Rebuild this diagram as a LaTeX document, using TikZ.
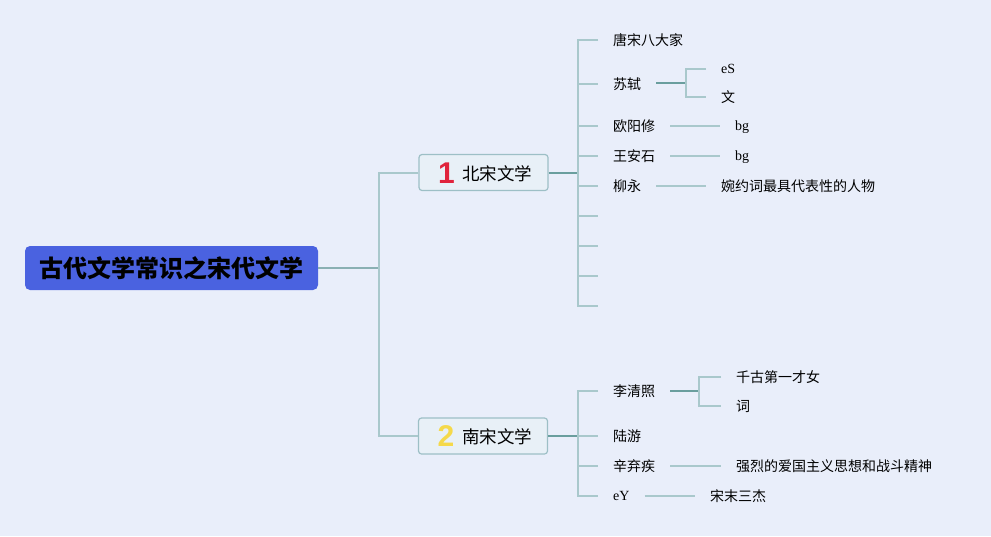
\documentclass[tikz,border=0pt]{standalone}
\usepackage{fontspec}
\setmainfont{Noto Sans CJK SC}
\newfontfamily\latinserif{Liberation Serif}
\newfontfamily\numfont{Liberation Sans}
\definecolor{bgc}{HTML}{E9EEFA}
\definecolor{rootF}{HTML}{4A62E0}
\definecolor{boxF}{HTML}{E8F0F7}
\definecolor{boxB}{HTML}{9DBFC6}
\definecolor{lineD}{HTML}{6A9E9E}
\definecolor{lineL}{HTML}{A9C8CC}
\definecolor{lineR}{HTML}{8AB0B3}
\definecolor{numR}{HTML}{E0233C}
\definecolor{numY}{HTML}{F5D94A}
\tikzset{
  lt/.style={draw=lineL, line width=1.4pt},
  dk/.style={draw=lineD, line width=1.4pt},
  rl/.style={draw=lineR, line width=1.4pt},
  lbl/.style={anchor=west, inner sep=0pt, font=\fontsize{14}{14}\selectfont},
  lat/.style={anchor=west, inner sep=0pt, font=\latinserif\fontsize{14}{14}\selectfont},
  topicbox/.style={draw=boxB, fill=boxF, line width=1.2pt, rounded corners=3pt, minimum width=129pt, minimum height=36pt, inner sep=0pt},
  rootbox/.style={fill=rootF, rounded corners=5pt, minimum width=293pt, minimum height=44pt, inner sep=0pt, font=\fontsize{24}{24}\selectfont\bfseries},
  topictext/.style={anchor=west, inner sep=0pt, font=\fontsize{17.5}{18}\selectfont},
  numtext/.style={inner sep=0pt, font=\numfont\bfseries\fontsize{30}{30}\selectfont},
}
\begin{document}
\begin{tikzpicture}[x=1pt,y=-1pt]
\fill[bgc] (0,0) rectangle (991,536);
\useasboundingbox (0,0) rectangle (991,536);

% root
\node[rootbox] (root) at (171.5,268) {古代文学常识之宋代文学};

% topic boxes
\node[topicbox] (b1) at (483.5,172.5) {};
\node[numtext, text=numR] (n1) at (446.5,173) {1};
\node[topictext] (t1) at (462,173.5) {北宋文学};
\node[topicbox] (b2) at (483,436) {};
\node[numtext, text=numY] (n2) at (446,436) {2};
\node[topictext] (t2) at (462,436.5) {南宋文学};

% main trunk
\coordinate (rj) at (379,268);
\coordinate (tj1) at (379,173);
\coordinate (tj2) at (379,436);
\draw[rl] (root.east) -- (rj);
\draw[lt] (b1.west |- tj1) -- (tj1) -- (tj2) -- (b2.west |- tj2);

% --- North Song children
\node[lbl] (c11) at (613,40) {唐宋八大家};
\node[lbl] (c12) at (613,84) {苏轼};
\node[lbl] (c13) at (613,126) {欧阳修};
\node[lbl] (c14) at (613,156) {王安石};
\node[lbl] (c15) at (613,186) {柳永};
\coordinate (e1) at (598,216);
\coordinate (e2) at (598,246);
\coordinate (e3) at (598,276);
\coordinate (e4) at (598,306);
\coordinate (s1) at (578,173);
\draw[dk] (b1.east |- s1) -- (s1);
\draw[lt] ([xshift=-15pt]c11.west) -- (578,0 |- c11.west) -- (578,0 |- e4) -- (e4);
\foreach \c in {c12,c13,c14,c15} \draw[lt] (578,0 |- \c.west) -- ([xshift=-15pt]\c.west);
\foreach \c in {e1,e2,e3} \draw[lt] (578,0 |- \c) -- (\c);

% 苏轼 grandchildren
\node[lat] (g121) at (721,69) {eS};
\node[lbl] (g122) at (721,97) {文};
\coordinate (j12) at (686,83);
\draw[dk] ([xshift=15pt]c12.east |- j12) -- (j12);
\draw[lt] ([xshift=-15pt]g121.west) -- (686,0 |- g121.west) -- (686,0 |- g122.west) -- ([xshift=-15pt]g122.west);

\node[lat] (g131) at (735,127) {bg};
\draw[lt] ([xshift=15pt]c13.east |- 0,126) -- ([xshift=-15pt]g131.west |- 0,126);
\node[lat] (g141) at (735,157) {bg};
\draw[lt] ([xshift=15pt]c14.east |- 0,156) -- ([xshift=-15pt]g141.west |- 0,156);
\node[lbl] (g151) at (721,186) {婉约词最具代表性的人物};
\draw[lt] ([xshift=15pt]c15.east) -- ([xshift=-15pt]g151.west);

% --- South Song children
\node[lbl] (c21) at (613,391) {李清照};
\node[lbl] (c22) at (613,436) {陆游};
\node[lbl] (c23) at (613,466) {辛弃疾};
\node[lat] (c24) at (613,496) {eY};
\coordinate (s2) at (578,436);
\draw[dk] (b2.east |- s2) -- (s2);
\draw[lt] ([xshift=-15pt]c21.west) -- (578,0 |- c21.west) -- (578,0 |- c24.west) -- ([xshift=-15pt]c24.west);
\foreach \c in {c22,c23} \draw[lt] (578,0 |- \c.west) -- ([xshift=-15pt]\c.west);

\node[lbl] (g211) at (736,377) {千古第一才女};
\node[lbl] (g212) at (736,406) {词};
\coordinate (j21) at (699,391);
\draw[dk] ([xshift=15pt]c21.east) -- (j21);
\draw[lt] ([xshift=-15pt]g211.west) -- (699,0 |- g211.west) -- (699,0 |- g212.west) -- ([xshift=-15pt]g212.west);

\node[lbl] (g231) at (736,466) {强烈的爱国主义思想和战斗精神};
\draw[lt] ([xshift=15pt]c23.east) -- ([xshift=-15pt]g231.west);
\node[lbl] (g241) at (710,496) {宋末三杰};
\draw[lt] ([xshift=15pt]c24.east) -- ([xshift=-15pt]g241.west);
\end{tikzpicture}
\end{document}
